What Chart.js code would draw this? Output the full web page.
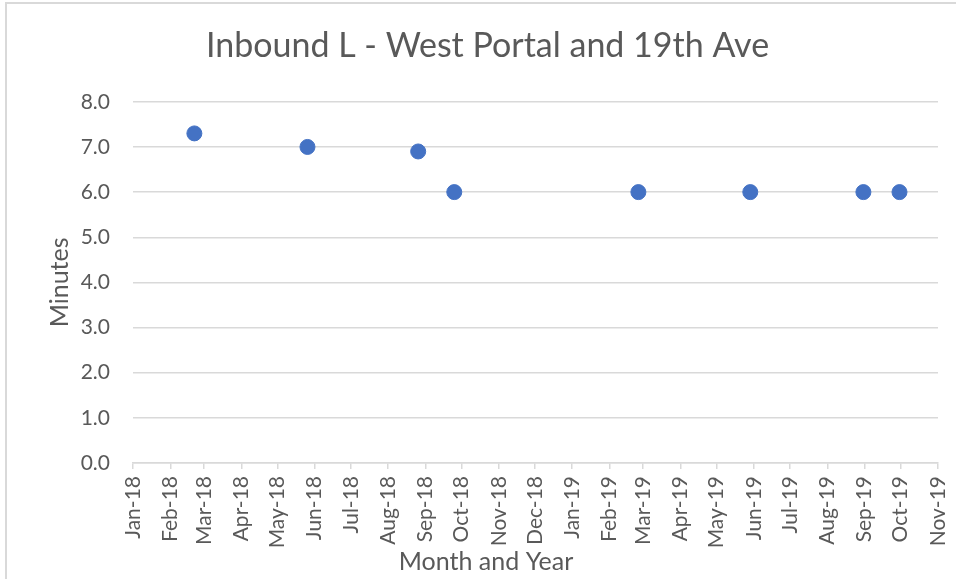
<!DOCTYPE html>
<html>
<head>
<meta charset="utf-8">
<script src="https://cdn.jsdelivr.net/npm/chart.js@4"></script>
<style>
  body { margin: 0; background: #fff; }
  canvas { display: block; }
</style>
</head>
<body>
<canvas id="myChart" width="956" height="579"></canvas>
<script>
const dates = ["2018-02-21", "2018-05-26", "2018-08-26", "2018-09-25", "2019-02-25", "2019-05-29", "2019-08-31", "2019-09-30"];
const minutes = [7.3, 7.0, 6.9, 6.0, 6.0, 6.0, 6.0, 6.0];
const tickLabels = ["Jan-18", "Feb-18", "Mar-18", "Apr-18", "May-18", "Jun-18", "Jul-18", "Aug-18", "Sep-18", "Oct-18", "Nov-18", "Dec-18",
  "Jan-19", "Feb-19", "Mar-19", "Apr-19", "May-19", "Jun-19", "Jul-19", "Aug-19", "Sep-19", "Oct-19", "Nov-19"];

const monthNames = ["Jan", "Feb", "Mar", "Apr", "May", "Jun", "Jul", "Aug", "Sep", "Oct", "Nov", "Dec"];
const DAY = 86400000;
const start = Date.UTC(2018, 0, 1);

// days since Jan 1 2018
const dayOf = (s) => (Date.parse(s + "T00:00:00Z") - start) / DAY;
const tickDays = tickLabels.map((lbl) => {
  const [m, y] = lbl.split("-");
  return (Date.UTC(2000 + Number(y), monthNames.indexOf(m), 1) - start) / DAY;
});

const textColor = "#595959";
const gridColor = "#d9d9d9";
const fontFamily = "Lato, 'Open Sans', sans-serif";

// chart frame + x axis title (Excel centres it on the whole chart, not the plot)
const frame = {
  id: "frame",
  beforeDraw(chart) {
    const c = chart.ctx;
    c.save();
    c.strokeStyle = gridColor;
    c.lineWidth = 2;
    c.beginPath();
    c.moveTo(6, 579);
    c.lineTo(6, 3);
    c.lineTo(956, 3);
    c.stroke();
    c.restore();
  },
  afterDraw(chart) {
    const c = chart.ctx;
    c.save();
    c.fillStyle = textColor;
    c.font = "25px " + fontFamily;
    c.textAlign = "center";
    c.textBaseline = "middle";
    c.fillText("Month and Year", 486, 562);
    c.restore();
  },
};

new Chart(document.getElementById("myChart"), {
  type: "scatter",
  data: {
    datasets: [
      {
        label: "Minutes",
        data: dates.map((d, i) => ({ x: dayOf(d), y: minutes[i] })),
        backgroundColor: "#4472C4",
        borderColor: "#4472C4",
        pointRadius: 7.5,
        pointHoverRadius: 7.5,
      },
    ],
  },
  options: {
    responsive: false,
    animation: false,
    layout: { padding: { left: 37, right: 18, top: 0, bottom: 0 } },
    plugins: {
      legend: { display: false },
      tooltip: { enabled: false },
      title: {
        display: true,
        text: "Inbound L - West Portal and 19th Ave",
        color: textColor,
        font: { family: fontFamily, size: 34, weight: "normal", lineHeight: 1.2 },
        padding: { top: 26, bottom: 35 },
      },
    },
    scales: {
      x: {
        type: "linear",
        min: tickDays[0],
        max: tickDays[tickDays.length - 1],
        afterBuildTicks: (scale) => {
          scale.ticks = tickDays.map((v) => ({ value: v }));
        },
        afterFit: (scale) => {
          scale.height = 116;
          scale.paddingLeft = 0;
          scale.paddingRight = 0;
        },
        grid: { drawOnChartArea: false, drawTicks: true, tickLength: 6, color: gridColor, lineWidth: 1.5 },
        border: { display: true, color: gridColor, width: 1.5 },
        ticks: {
          autoSkip: false,
          maxRotation: 90,
          minRotation: 90,
          padding: 7,
          color: textColor,
          font: { family: fontFamily, size: 21 },
          callback: (value, index) => tickLabels[index],
        },
      },
      y: {
        min: 0,
        max: 8,
        afterFit: (scale) => {
          scale.width = 96;
        },
        grid: { color: gridColor, lineWidth: 1.5, drawTicks: false },
        border: { display: false },
        ticks: {
          stepSize: 1,
          padding: 23,
          color: textColor,
          font: { family: fontFamily, size: 21 },
          callback: (value) => value.toFixed(1),
        },
        title: {
          display: true,
          text: "Minutes",
          color: textColor,
          font: { family: fontFamily, size: 25 },
          padding: { top: 8, bottom: 0 },
        },
      },
    },
  },
  plugins: [frame],
});
</script>
</body>
</html>
